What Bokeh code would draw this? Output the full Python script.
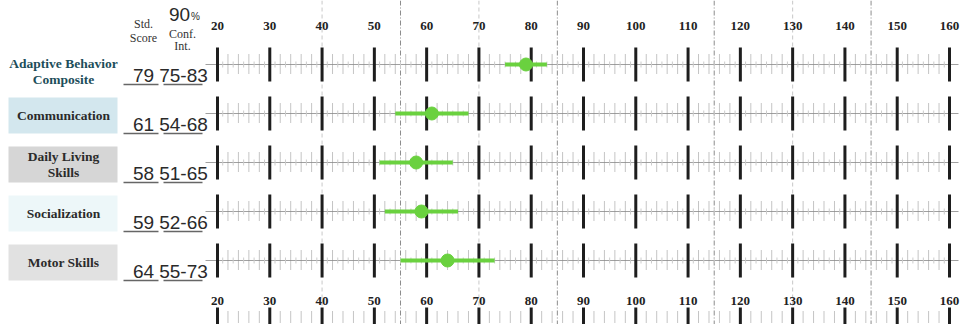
from bokeh.plotting import figure
from bokeh.models import Range1d
from bokeh.core.properties import value
from bokeh.embed import file_html
from bokeh.resources import INLINE

# ---- data ----
domains = ["Adaptive Behavior Composite", "Communication", "Daily Living Skills",
           "Socialization", "Motor Skills"]
label_lines = [["Adaptive Behavior", "Composite"], ["Communication"],
               ["Daily Living", "Skills"], ["Socialization"], ["Motor Skills"]]
std_scores = [79, 61, 58, 59, 64]
ci_low = [75, 54, 51, 52, 55]
ci_high = [83, 68, 65, 66, 73]
major_ticks = list(range(20, 161, 10))
minor_ticks = [v for v in range(20, 161, 2) if v % 10]
odd_ticks = list(range(21, 160, 2))
sd_lines = [55, 85, 115, 145]
faint_lines = [40, 70, 130]
box_colors = [None, "#d3e7ee", "#d6d6d6", "#edf7f9", "#e1e1e1"]
label_colors = ["#1d4e5a", "#2b2b2b", "#2b2b2b", "#2b2b2b", "#2b2b2b"]

# ---- layout helpers (pixel -> data) ----
W, H = 963, 324
X0PX, PXPER = 217.0, (949.0 - 217.0) / 140.0
ROW0, PITCH = 64.0, 49.0


def X(px):
    return 20 + (px - X0PX) / PXPER


def Y(px):
    return (px - ROW0) / PITCH


def dy(px):
    return px / PITCH


p = figure(width=W, height=H, x_range=Range1d(X(0), X(W)),
           y_range=Range1d(Y(H), Y(0)), output_backend="svg",
           toolbar_location=None, min_border=0,
           x_axis_location=None, y_axis_location=None)
p.grid.visible = False
p.outline_line_color = None
p.background_fill_color = "white"

rows = list(range(len(domains)))
GREEN = "#6ad13f"
SERIF = value("Liberation Serif")
SANS = value("Liberation Sans")

# label boxes
for i in rows:
    if box_colors[i]:
        p.quad(left=[X(8)], right=[X(117)], top=[i - dy(16)], bottom=[i + dy(20)],
               fill_color=box_colors[i], line_color=None)

# SD reference lines
p.segment(x0=sd_lines, x1=sd_lines, y0=[Y(0)] * len(sd_lines), y1=[Y(H)] * len(sd_lines),
          line_color="#8c8c8c", line_width=1, line_dash="5 2 1 2")
p.segment(x0=faint_lines, x1=faint_lines, y0=[Y(0)] * len(faint_lines),
          y1=[Y(H)] * len(faint_lines), line_color="#c8c8c8", line_width=1,
          line_dash="4 3")

# row scales
for i in rows:
    p.segment(x0=[X(205)], x1=[X(958)], y0=[i], y1=[i], line_color="#a0a0a0", line_width=1)
    p.segment(x0=odd_ticks, x1=odd_ticks, y0=[i - dy(3)] * len(odd_ticks),
              y1=[i + dy(3)] * len(odd_ticks), line_color="#cccccc", line_width=1)
    p.segment(x0=minor_ticks, x1=minor_ticks, y0=[i - dy(10)] * len(minor_ticks),
              y1=[i + dy(10)] * len(minor_ticks), line_color="#8a8a8a", line_width=1,
              line_dash="1 1")
    p.segment(x0=major_ticks, x1=major_ticks, y0=[i - dy(17)] * len(major_ticks),
              y1=[i + dy(17)] * len(major_ticks), line_color="#1e1e1e", line_width=3)

# bottom scale
p.segment(x0=minor_ticks, x1=minor_ticks, y0=[Y(311)] * len(minor_ticks),
          y1=[Y(322)] * len(minor_ticks), line_color="#8a8a8a", line_width=1,
          line_dash="1 1")
p.segment(x0=major_ticks, x1=major_ticks, y0=[Y(307)] * len(major_ticks),
          y1=[Y(H)] * len(major_ticks), line_color="#1e1e1e", line_width=3)

# tick labels top and bottom
tick_txt = [str(t) for t in major_ticks]
for ypx in (25, 300):
    p.text(x=major_ticks, y=[Y(ypx)] * len(major_ticks), text=tick_txt,
           text_font=SERIF, text_font_style="bold", text_font_size="13px",
           text_color="#222222", text_align="center", text_baseline="middle")

# confidence intervals and scores
p.segment(x0=ci_low, x1=ci_high, y0=rows, y1=rows, line_color=GREEN, line_width=4)
p.scatter(x=std_scores, y=rows, size=13, fill_color=GREEN, line_color=GREEN)

# domain labels
for i in rows:
    lines = label_lines[i]
    off = 7 if i == 0 else 2
    n = len(lines)
    for k, ln in enumerate(lines):
        ypx = off + (k - (n - 1) / 2) * 16
        p.text(x=[X(63)], y=[i + dy(ypx)], text=[ln], text_font=SERIF,
               text_font_style="bold", text_font_size="13.5px",
               text_color=label_colors[i], text_align="center", text_baseline="middle")

# score & CI text with underlines
ci_txt = [f"{a}-{b}" for a, b in zip(ci_low, ci_high)]
p.text(x=[X(143)] * len(rows), y=[i + dy(11) for i in rows],
       text=[str(s) for s in std_scores], text_font=SANS, text_font_size="19px",
       text_color="#2a2a2a", text_align="center", text_baseline="middle")
p.text(x=[X(183)] * len(rows), y=[i + dy(11) for i in rows], text=ci_txt,
       text_font=SANS, text_font_size="19px", text_color="#2a2a2a",
       text_align="center", text_baseline="middle")
p.segment(x0=[X(123)] * len(rows), x1=[X(158)] * len(rows),
          y0=[i + dy(20) for i in rows], y1=[i + dy(20) for i in rows],
          line_color="#666666", line_width=1.5)
p.segment(x0=[X(163)] * len(rows), x1=[X(202)] * len(rows),
          y0=[i + dy(20) for i in rows], y1=[i + dy(20) for i in rows],
          line_color="#666666", line_width=1.5)

# header
hdr = [("Std.", 143, 23), ("Score", 143, 37), ("Conf.", 182, 33), ("Int.", 182, 45)]
for t, xp, yp in hdr:
    p.text(x=[X(xp)], y=[Y(yp)], text=[t], text_font=SERIF, text_font_size="12px",
           text_color="#333333", text_align="center", text_baseline="middle")
p.text(x=[X(179)], y=[Y(14)], text=["90"], text_font=SANS, text_font_size="19px",
       text_color="#2a2a2a", text_align="center", text_baseline="middle")
p.text(x=[X(195)], y=[Y(16)], text=["%"], text_font=SANS, text_font_size="10px",
       text_color="#2a2a2a", text_align="center", text_baseline="middle")

open("out.html", "w").write(file_html(p, INLINE))
